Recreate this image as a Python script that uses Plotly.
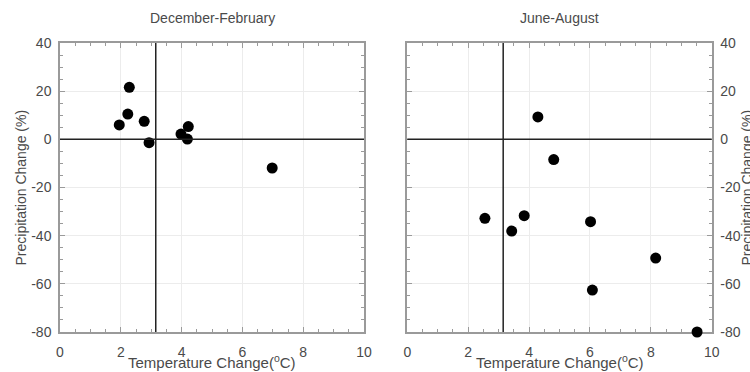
import plotly.graph_objects as go

# Data
djf_temp = [1.95, 2.28, 2.23, 2.77, 2.93, 3.98, 4.22, 4.19, 6.98]
djf_precip = [6.0, 21.6, 10.5, 7.5, -1.4, 2.2, 5.3, 0.1, -11.9]
jja_temp = [4.29, 4.81, 2.55, 3.43, 3.84, 6.02, 6.08, 8.16, 9.52]
jja_precip = [9.3, -8.4, -32.8, -38.1, -31.7, -34.2, -62.6, -49.3, -80.0]
panel_titles = ["December-February", "June-August"]
x_title = "Temperature Change(<sup>o</sup>C)"
y_title = "Precipitation Change (%)"
ref_temp = 3.15
ref_precip = 0
x_ticks = [0, 2, 4, 6, 8, 10]
y_ticks = [-80, -60, -40, -20, 0, 20, 40]
y_ticktext = ["-80", "-60", "-40", "-20", "0", "20", "40"]

FONT = "Liberation Sans, Arial, sans-serif"
TXT = "#4a4a4a"
AX = "#9a9a9a"
W, H = 750, 372

fig = go.Figure()
fig.add_trace(go.Scatter(x=djf_temp, y=djf_precip, mode="markers",
                         marker=dict(size=11, color="black"), xaxis="x", yaxis="y",
                         showlegend=False, cliponaxis=False))
fig.add_trace(go.Scatter(x=jja_temp, y=jja_precip, mode="markers",
                         marker=dict(size=11, color="black"), xaxis="x2", yaxis="y2",
                         showlegend=False, cliponaxis=False))

ydom = [1 - 332 / H, 1 - 43 / H]
common_x = dict(range=[0, 10], tickvals=x_ticks, ticks="inside", ticklen=5, tickcolor=AX,
                showline=True, linecolor=AX, linewidth=1.5, mirror="ticks", layer="below traces",
                showgrid=True, gridcolor="#ececec", gridwidth=1, zeroline=False, automargin=False,
                minor=dict(dtick=0.5, ticks="inside", ticklen=3, tickcolor=AX, showgrid=False),
                tickfont=dict(size=14, color=TXT, family=FONT), ticklabelstandoff=6)
common_y = dict(range=[-80, 40], tickvals=y_ticks, ticktext=y_ticktext, ticks="inside", ticklen=5, tickcolor=AX,
                showline=True, linecolor=AX, linewidth=1.5, mirror="ticks", layer="below traces",
                showgrid=True, gridcolor="#ececec", gridwidth=1, zeroline=False, automargin=False,
                minor=dict(dtick=5, ticks="inside", ticklen=3, tickcolor=AX, showgrid=False),
                tickfont=dict(size=14, color=TXT, family=FONT), ticklabelstandoff=4)

fig.update_layout(
    width=W, height=H,
    margin=dict(l=0, r=0, t=0, b=0),
    plot_bgcolor="white", paper_bgcolor="white",
    font=dict(family=FONT, color=TXT),
    xaxis=dict(domain=[60 / W, 364 / W], anchor="y", **common_x),
    yaxis=dict(domain=ydom, anchor="x", side="left", **common_y),
    xaxis2=dict(domain=[407.3 / W, 711.7 / W], anchor="y2", **common_x),
    yaxis2=dict(domain=ydom, anchor="x2", side="right", **common_y),
)

for i, (t, xa) in enumerate(zip(panel_titles, ["x", "x2"])):
    ya = "y" if xa == "x" else "y2"
    fig.add_annotation(text=t, xref=f"{xa} domain", yref="paper", x=0.5, y=1 - 18 / H,
                       showarrow=False, font=dict(size=14, color=TXT, family=FONT),
                       yanchor="middle")
    fig.add_annotation(text=x_title, xref=f"{xa} domain", yref="paper", x=0.5, y=1 - 361 / H,
                       showarrow=False, font=dict(size=15, color=TXT, family=FONT),
                       yanchor="middle")
    fig.add_shape(type="line", xref=xa, yref=f"{ya} domain", layer="above",
                  x0=ref_temp, x1=ref_temp, y0=0, y1=1, line=dict(color="#222222", width=1.5))
    fig.add_shape(type="line", xref=f"{xa} domain", yref=ya, layer="above",
                  x0=0, x1=1, y0=ref_precip, y1=ref_precip, line=dict(color="#222222", width=1.5))

fig.add_annotation(text=y_title, xref="paper", yref="y domain", x=20 / W, y=0.5,
                   textangle=-90, showarrow=False, xanchor="center", yanchor="middle",
                   font=dict(size=14, color=TXT, family=FONT))
fig.add_annotation(text=y_title, xref="paper", yref="y2 domain", x=746 / W, y=0.5,
                   textangle=-90, showarrow=False, xanchor="center", yanchor="middle",
                   font=dict(size=14, color=TXT, family=FONT))

fig.write_html("out.html")
